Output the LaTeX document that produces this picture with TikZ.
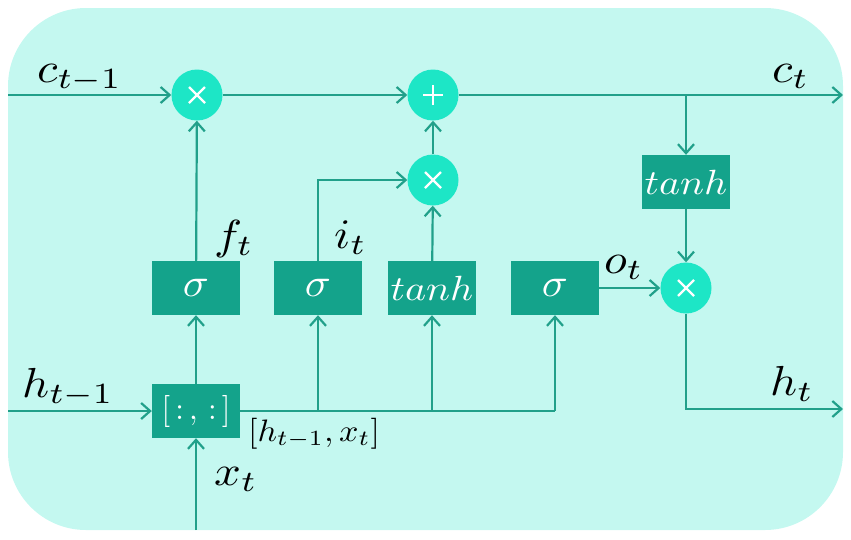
\documentclass[tikz,border=0pt]{standalone}
\usepackage{graphicx}
\usetikzlibrary{arrows.meta}
\definecolor{bgc}{HTML}{C4F8F0}
\definecolor{boxc}{HTML}{14A38B}
\definecolor{circc}{HTML}{1DE6C6}
\definecolor{linec}{HTML}{21A08A}
\newcommand{\sclm}[3]{\scalebox{#1}[#2]{$#3$}}
\begin{document}
\begin{tikzpicture}[x=1pt,y=-1pt,
  conn/.style={draw=linec, line width=2.2pt, -{Straight Barb[length=9pt,width=16pt,line width=2.2pt]}},
  wire/.style={draw=linec, line width=2.2pt},
  gatebox/.style={fill=boxc, minimum width=88pt, minimum height=54pt, inner sep=0pt, text=white},
  opc/.style={circle, fill=circc, minimum size=51pt, inner sep=0pt},
  crossop/.style={opc, path picture={
     \draw[white,line width=2.2pt] ([shift={(-8pt,-8pt)}]path picture bounding box.center) -- ([shift={(8pt,8pt)}]path picture bounding box.center);
     \draw[white,line width=2.2pt] ([shift={(-8pt,8pt)}]path picture bounding box.center) -- ([shift={(8pt,-8pt)}]path picture bounding box.center);}},
  plusop/.style={opc, path picture={
     \draw[white,line width=2.2pt] ([shift={(-10pt,0pt)}]path picture bounding box.center) -- ([shift={(10pt,0pt)}]path picture bounding box.center);
     \draw[white,line width=2.2pt] ([shift={(0pt,-10pt)}]path picture bounding box.center) -- ([shift={(0pt,10pt)}]path picture bounding box.center);}},
  lbl/.style={inner sep=0pt, anchor=base west}
]
\useasboundingbox (0,0) rectangle (851,539);
\fill[bgc, rounded corners=78pt] (8,8) rectangle (843,530);

% operators
\node[crossop] (m1) at (197,95) {};
\node[plusop] (add) at (433,95) {};
\node[crossop] (m2) at (433,180) {};
\node[crossop] (m3) at (686,288) {};

% gate boxes
\node[gatebox] (th2) at (686,182) {\sclm{4.0}{3.5}{tanh}};
\node[gatebox] (f) at (196,288) {\sclm{4.3}{4.0}{\sigma}};
\node[gatebox] (i) at (318,288) {\sclm{4.3}{4.0}{\sigma}};
\node[gatebox] (g) at (432,288) {\sclm{4.0}{3.5}{tanh}};
\node[gatebox] (o) at (555,288) {\sclm{4.3}{4.0}{\sigma}};
\node[gatebox] (cat) at (196,411) {\sclm{3.1}{3.2}{[\,:\,,\,:\,]}};

% free ends
\coordinate (cin) at (8,95);
\coordinate (cout) at (843,95);
\coordinate (br) at (686,95);
\coordinate (hin) at (8,411);
\coordinate (hout) at (843,409);
\coordinate (xin) at (196,530);
\coordinate (busi) at (318,411);
\coordinate (busg) at (432,411);
\coordinate (buso) at (555,411);

% cell state line
\draw[conn] (cin) -- (m1);
\draw[conn] (m1) -- (add);
\draw[conn] (add) -- (cout);
\draw[conn] (br) -- (th2);
\draw[conn] (th2) -- (m3);
\draw[conn] (m2) -- (add);

% gates
\draw[conn] (f) -- (m1);
\draw[conn] (i.north) |- (m2);
\draw[conn] (g) -- (m2);
\draw[conn] (o) -- (m3);
\draw[conn] (m3) |- (hout);

% inputs
\draw[conn] (hin) -- (cat);
\draw[conn] (xin) -- (cat);
\draw[conn] (cat) -- (f);
\draw[wire] (cat.east) -- (buso);
\draw[conn] (busi) -- (i);
\draw[conn] (busg) -- (g);
\draw[conn] (buso) -- (o);

% labels
\node[lbl] (lc1) at (37,82) {\sclm{4.7}{4.2}{c_{t-1}}};
\node[lbl] (lc) at (772,82) {\sclm{4.7}{4.2}{c_t}};
\node[lbl] (lf) at (214,249) {\sclm{4.7}{4.2}{f_t}};
\node[lbl] (li) at (334,248) {\sclm{4.7}{4.2}{i_t}};
\node[lbl] (lo) at (604,273) {\sclm{4.7}{4.2}{o_t}};
\node[lbl] (lh1) at (22,397) {\sclm{4.7}{4.2}{h_{t-1}}};
\node[lbl] (lh) at (770,395) {\sclm{4.7}{4.2}{h_t}};
\node[lbl] (lx) at (214,485) {\sclm{4.7}{4.2}{x_t}};
\node[lbl] (lhx) at (248,441) {\sclm{3.4}{3.1}{[h_{t-1},x_t]}};
\end{tikzpicture}
\end{document}
